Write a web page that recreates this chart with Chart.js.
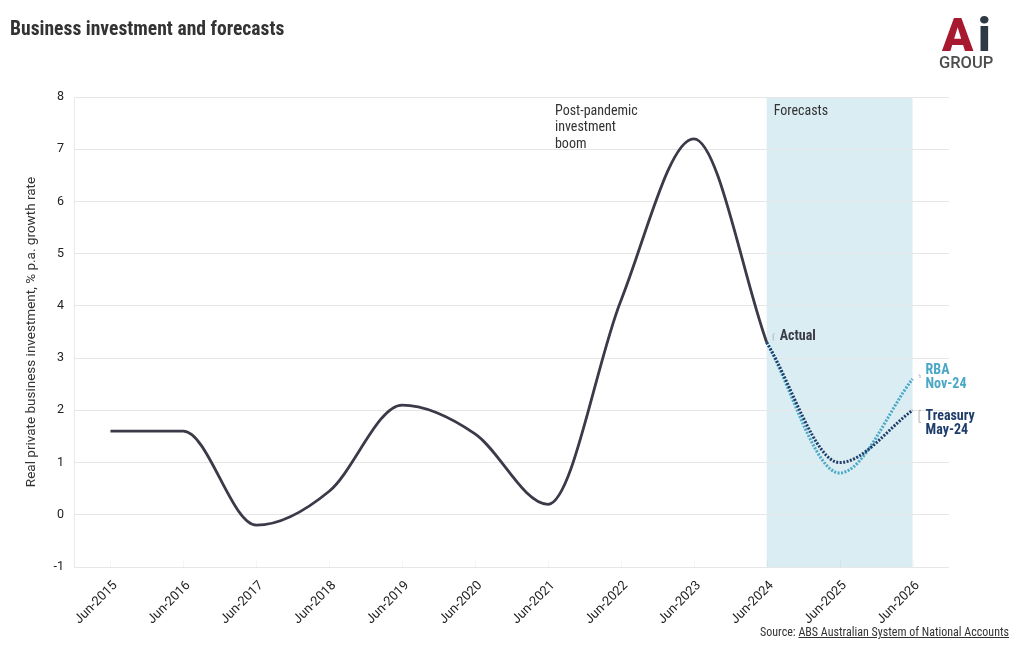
<!DOCTYPE html>
<html>
<head>
<meta charset="utf-8">
<script src="https://cdn.jsdelivr.net/npm/chart.js@4"></script>
<style>
  html,body{margin:0;padding:0;background:#fff;}
  #wrap{position:relative;width:1020px;height:650px;overflow:hidden;font-family:"Roboto Condensed","Liberation Sans Narrow","Roboto",sans-serif;}
  #c{position:absolute;left:0;top:0;}
  #title{position:absolute;left:10px;top:17px;font-size:19.6px;font-weight:bold;color:#333;white-space:nowrap;}
  #logo{position:absolute;left:938px;top:10px;width:64px;height:62px;}
  #logoA{position:absolute;left:4px;top:2px;font-family:"Roboto",sans-serif;font-weight:900;font-size:46px;color:#a6192e;line-height:46px;}
  #logoI{position:absolute;left:40px;top:2px;font-family:"Roboto",sans-serif;font-weight:900;font-size:46px;color:#2d3a45;line-height:46px;}
  #logoG{position:absolute;left:1px;top:43px;font-family:"Roboto",sans-serif;font-weight:500;font-size:16.5px;color:#4d4d4d;}
  #source{position:absolute;right:11px;top:625px;font-size:12px;color:#333;white-space:nowrap;}
  #source u{text-decoration:underline;}
</style>
</head>
<body>
<div id="wrap">
  <canvas id="c" width="1020" height="650"></canvas>
  <div id="title">Business investment and forecasts</div>
  <div id="logo"><span id="logoA">A</span><span id="logoI">i</span><span id="logoG">GROUP</span></div>
  <div id="source">Source: <u>ABS Australian System of National Accounts</u></div>
</div>
<script>
const categories = ["Jun-2015","Jun-2016","Jun-2017","Jun-2018","Jun-2019","Jun-2020","Jun-2021","Jun-2022","Jun-2023","Jun-2024","Jun-2025","Jun-2026"];
const actualValues   = [1.6, 1.6, -0.2, 0.45, 2.1, 1.55, 0.2, 4.1, 7.2, 3.3, null, null];
const rbaValues      = [null, null, null, null, null, null, null, null, null, 3.3, 0.8, 2.6];
const treasuryValues = [null, null, null, null, null, null, null, null, null, 3.3, 1.0, 2.0];
const yTicks = [-1, 0, 1, 2, 3, 4, 5, 6, 7, 8];
const forecastStart = "Jun-2024";
const forecastEnd = "Jun-2026";

const FONT = '"Roboto Condensed","Liberation Sans Narrow","Roboto",sans-serif';
const AXFONT = '"Roboto",sans-serif';

const overlay = {
  id: 'overlay',
  beforeDraw(chart) {
    const {ctx, chartArea, scales:{x}} = chart;
    const x0 = x.getPixelForValue(categories.indexOf(forecastStart));
    const x1 = x.getPixelForValue(categories.indexOf(forecastEnd));
    ctx.save();
    ctx.fillStyle = '#daedf3';
    ctx.fillRect(x0, chartArea.top, x1 - x0, chartArea.bottom - chartArea.top);
    ctx.strokeStyle = 'rgba(0,0,0,0.035)';
    ctx.lineWidth = 1;
    ctx.beginPath();
    categories.forEach((c, i) => {
      const px = Math.round(x.getPixelForValue(i)) + 0.5;
      ctx.moveTo(px, chartArea.bottom - 7);
      ctx.lineTo(px, chartArea.bottom);
    });
    ctx.stroke();
    ctx.restore();
  },
  afterDatasetsDraw(chart) {
    const {ctx, chartArea, scales:{x, y}} = chart;
    ctx.save();
    ctx.textBaseline = 'top';
    ctx.font = '14px ' + FONT;
    ctx.fillStyle = '#333';
    const xp = x.getPixelForValue(6) + 7;
    ctx.fillText('Post-pandemic', xp, chartArea.top + 7);
    ctx.fillText('investment', xp, chartArea.top + 23);
    ctx.fillText('boom', xp, chartArea.top + 40);
    const xf = x.getPixelForValue(categories.indexOf(forecastStart));
    ctx.fillText('Forecasts', xf + 7, chartArea.top + 7);

    ctx.font = 'bold 14px ' + FONT;
    ctx.textBaseline = 'middle';
    const i9 = categories.indexOf(forecastStart);
    const ax = x.getPixelForValue(i9), ay = y.getPixelForValue(actualValues[i9]);
    ctx.fillStyle = '#3a3a48';
    ctx.fillText('Actual', ax + 13, ay - 6);
    const last = categories.length - 1;
    const ex = x.getPixelForValue(last);
    const ry = y.getPixelForValue(rbaValues[last]);
    ctx.fillStyle = '#4aa8c6';
    ctx.fillText('RBA', ex + 13, ry - 9);
    ctx.fillText('Nov-24', ex + 13, ry + 5);
    const ty = y.getPixelForValue(treasuryValues[last]);
    ctx.fillStyle = '#1f3d6b';
    ctx.fillText('Treasury', ex + 13, ty + 6);
    ctx.fillText('May-24', ex + 13, ty + 20);

    ctx.strokeStyle = '#b5b5b5';
    ctx.lineWidth = 1;
    ctx.beginPath();
    ctx.moveTo(ax + 6.5, ay - 2); ctx.lineTo(ax + 6.5, ay - 8); ctx.lineTo(ax + 8, ay - 9);
    ctx.moveTo(ex + 7.5, ry - 1); ctx.lineTo(ex + 7.5, ry - 4); ctx.lineTo(ex + 6, ry - 4);
    ctx.moveTo(ex + 8.5, ty); ctx.lineTo(ex + 6.5, ty); ctx.lineTo(ex + 6.5, ty + 12); ctx.lineTo(ex + 8.5, ty + 12);
    ctx.stroke();
    ctx.restore();
  }
};

new Chart(document.getElementById('c'), {
  type: 'line',
  data: {
    labels: categories,
    datasets: [
      { label: 'Actual', data: actualValues, borderColor: '#3a3a48', borderWidth: 2.8, pointRadius: 0, cubicInterpolationMode: 'monotone', fill: false },
      { label: 'Treasury May-24', data: treasuryValues, borderColor: '#1f3d6b', borderWidth: 3, borderDash: [2, 1.5], pointRadius: 0, cubicInterpolationMode: 'monotone', fill: false },
      { label: 'RBA Nov-24', data: rbaValues, borderColor: '#4aa8c6', borderWidth: 3, borderDash: [2, 1.5], pointRadius: 0, cubicInterpolationMode: 'monotone', fill: false }
    ]
  },
  options: {
    responsive: false,
    animation: false,
    devicePixelRatio: 1,
    layout: { padding: { top: 97, right: 71, bottom: 0, left: 0 } },
    plugins: { legend: { display: false }, tooltip: { enabled: false } },
    scales: {
      x: {
        offset: true,
        grid: { display: false },
        border: { display: false },
        ticks: { color: '#222', font: { size: 13, family: AXFONT }, maxRotation: 45, minRotation: 45, padding: 3, labelOffset: 5, autoSkip: false },
        afterFit(scale) { scale.height = 83; }
      },
      y: {
        min: -1, max: 8,
        afterBuildTicks(scale) { scale.ticks = yTicks.map(v => ({ value: v })); },
        grid: { color: '#e6e6e6', drawTicks: false, lineWidth: 1 },
        border: { display: true, color: '#e9e9e9' },
        ticks: { color: '#222', font: { size: 12.5, family: AXFONT }, padding: 10 },
        title: { display: true, text: 'Real private business investment, % p.a. growth rate', color: '#333', font: { size: 13.5, family: AXFONT }, padding: { top: 24, bottom: 0 } },
        afterFit(scale) { scale.width = 74; }
      }
    }
  },
  plugins: [overlay]
});
</script>
</body>
</html>
